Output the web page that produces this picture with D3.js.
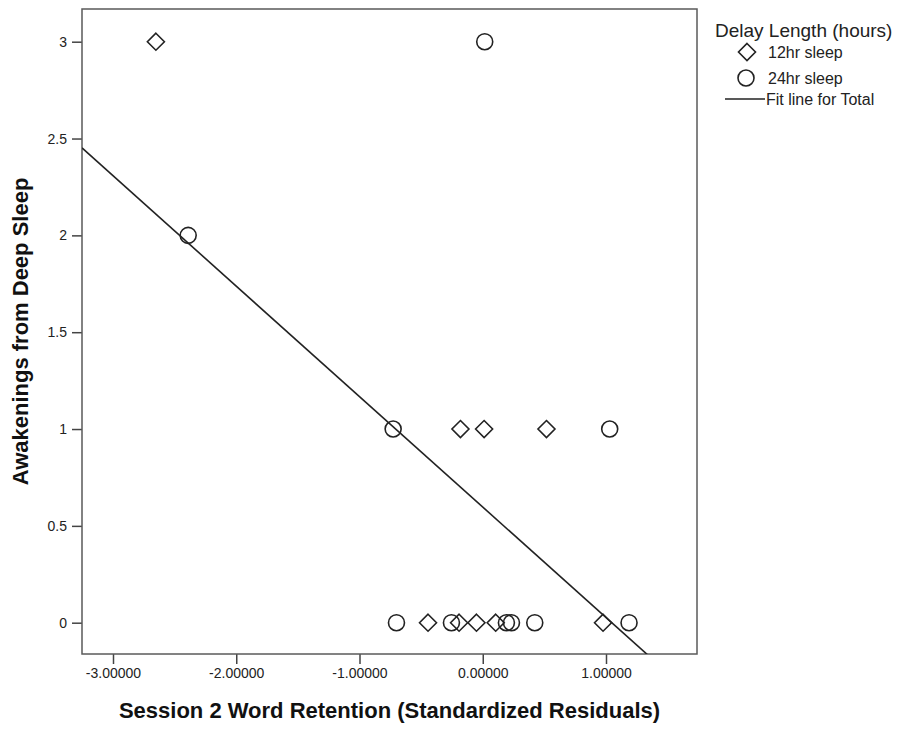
<!DOCTYPE html>
<html>
<head>
<meta charset="utf-8">
<script src="https://cdn.jsdelivr.net/npm/d3@7"></script>
<style>
  body { margin: 0; background: #fff; }
  text { font-family: "Liberation Sans", Arial, sans-serif; }
</style>
</head>
<body>
<svg width="900" height="729"></svg>
<script>
/* Values */
let sleep12x = [-2.652, -0.181, 0.011, 0.517, -0.444, -0.192, -0.051, 0.105, 0.976];
let sleep12y = [3, 1, 1, 1, 0, 0, 0, 0, 0];
let sleep24x = [0.016, -2.39, -0.727, 1.03, -0.700, -0.254, 0.192, 0.233, 0.422, 1.187];
let sleep24y = [3, 2, 1, 1, 0, 0, 0, 0, 0, 0];
let xTicks = [-3, -2, -1, 0, 1];
let yTicks = [0, 0.5, 1, 1.5, 2, 2.5, 3];
let legendLabels = ['12hr sleep', '24hr sleep', 'Fit line for Total'];

let svg = d3.select('svg');

let plot = {left: 82, right: 697, top: 9, bottom: 654};

/* -3 sits at 113px and 1 at 606px; y 3 at 41.7px and 0 at 622.7px */
let xPerUnit = (606 - 113) / 4;
let yPerUnit = (622.7 - 41.7) / 3;
let x = d3.scaleLinear()
  .domain([-3 + (plot.left - 113) / xPerUnit, 1 + (plot.right - 606) / xPerUnit])
  .range([plot.left, plot.right]);
let y = d3.scaleLinear()
  .domain([(622.7 - plot.bottom) / yPerUnit, 3 + (41.7 - plot.top) / yPerUnit])
  .range([plot.bottom, plot.top]);

svg.append('clipPath').attr('id', 'plot-area')
  .append('rect')
  .attr('x', plot.left).attr('y', plot.top)
  .attr('width', plot.right - plot.left).attr('height', plot.bottom - plot.top);

/* Axes, SPSS style labels with a plain hyphen for minus */
let fmtX = function(d) { return d3.format('.5f')(d).replace('\u2212', '-'); };

let xAxis = svg.append('g')
  .attr('transform', 'translate(0,' + plot.bottom + ')')
  .call(d3.axisBottom(x).tickValues(xTicks).tickFormat(fmtX).tickSize(10).tickPadding(4));
let yAxis = svg.append('g')
  .attr('transform', 'translate(' + plot.left + ',0)')
  .call(d3.axisLeft(y).tickValues(yTicks).tickFormat(d3.format('')).tickSize(10).tickPadding(5));

[xAxis, yAxis].forEach(function(a) {
  a.select('.domain').remove();
  a.selectAll('line').attr('stroke', '#444').attr('stroke-width', 1.5);
  a.selectAll('text').attr('fill', '#222').style('font-size', '14px')
    .style('font-family', '"Liberation Sans", Arial, sans-serif');
});

svg.append('rect')
  .attr('x', plot.left).attr('y', plot.top)
  .attr('width', plot.right - plot.left).attr('height', plot.bottom - plot.top)
  .attr('fill', 'none').attr('stroke', '#5a5a5a').attr('stroke-width', 1.5);

/* Fit line (least squares over both groups) */
let allX = sleep12x.concat(sleep24x);
let allY = sleep12y.concat(sleep24y);
let mx = d3.mean(allX), my = d3.mean(allY);
let sxy = d3.sum(allX, function(d, i) { return (d - mx) * (allY[i] - my); });
let sxx = d3.sum(allX, function(d) { return (d - mx) * (d - mx); });
let slope = sxy / sxx;
let intercept = my - slope * mx;
let dom = x.domain();

svg.append('line')
  .attr('x1', x(dom[0])).attr('y1', y(intercept + slope * dom[0]))
  .attr('x2', x(dom[1])).attr('y2', y(intercept + slope * dom[1]))
  .attr('stroke', '#222').attr('stroke-width', 1.6)
  .attr('clip-path', 'url(#plot-area)');

/* Markers */
function diamond(cx, cy, r) {
  return 'M' + cx + ',' + (cy - r) + 'L' + (cx + r) + ',' + cy + 'L' + cx + ',' + (cy + r) + 'L' + (cx - r) + ',' + cy + 'Z';
}

svg.append('g').selectAll('path').data(sleep12x).enter().append('path')
  .attr('d', function(d, i) { return diamond(x(d), y(sleep12y[i]), 8.5); })
  .attr('fill', 'none').attr('stroke', '#222').attr('stroke-width', 1.6);

svg.append('g').selectAll('circle').data(sleep24x).enter().append('circle')
  .attr('cx', function(d) { return x(d); })
  .attr('cy', function(d, i) { return y(sleep24y[i]); })
  .attr('r', 8)
  .attr('fill', 'none').attr('stroke', '#222').attr('stroke-width', 1.6);

/* Axis titles */
svg.append('text')
  .attr('x', (plot.left + plot.right) / 2).attr('y', 718)
  .attr('text-anchor', 'middle')
  .style('font-size', '22px').style('font-weight', 'bold').attr('fill', '#111')
  .text('Session 2 Word Retention (Standardized Residuals)');

svg.append('text')
  .attr('transform', 'translate(28,' + (plot.top + plot.bottom) / 2 + ') rotate(-90)')
  .attr('text-anchor', 'middle')
  .style('font-size', '22px').style('font-weight', 'bold').attr('fill', '#111')
  .text('Awakenings from Deep Sleep');

/* Legend */
let legend = svg.append('g');
legend.append('text')
  .attr('x', 715).attr('y', 37)
  .style('font-size', '19px').attr('fill', '#222')
  .text('Delay Length (hours)');

legend.append('path')
  .attr('d', diamond(747, 52, 8.5))
  .attr('fill', 'none').attr('stroke', '#222').attr('stroke-width', 1.6);
legend.append('circle')
  .attr('cx', 746).attr('cy', 78).attr('r', 8)
  .attr('fill', 'none').attr('stroke', '#222').attr('stroke-width', 1.6);
legend.append('line')
  .attr('x1', 725).attr('x2', 765).attr('y1', 99).attr('y2', 99)
  .attr('stroke', '#222').attr('stroke-width', 1.6);

legend.selectAll('text.item').data(legendLabels).enter().append('text')
  .attr('class', 'item')
  .attr('x', function(d, i) { return i < 2 ? 768 : 766; })
  .attr('y', function(d, i) { return [58, 84, 105][i]; })
  .style('font-size', '16px').attr('fill', '#222')
  .text(function(d) { return d; });
</script>
</body>
</html>
